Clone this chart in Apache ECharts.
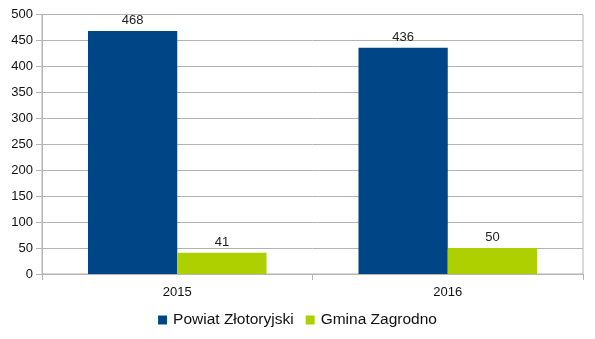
<!DOCTYPE html>
<html>
<head>
<meta charset="utf-8">
<script src="https://cdn.jsdelivr.net/npm/echarts@6/dist/echarts.min.js"></script>
<style>
  html, body { margin: 0; padding: 0; background: #fff; }
  #chart { width: 595px; height: 339px; }
</style>
</head>
<body>
<div id="chart"></div>
<script>
// Years on the category axis
const categories = ['2015', '2016'];
// Series values
const seriesNames = ['Powiat Złotoryjski', 'Gmina Zagrodno'];
const powiatValues = [468, 436];
const gminaValues = [41, 50];
// Value axis ticks
const yTicks = [0, 50, 100, 150, 200, 250, 300, 350, 400, 450, 500];

const FONT = '"Liberation Sans", Arial, sans-serif';
const GRID_COLOR = '#b3b3b3';
const colors = ['#004586', '#aecf00'];

const chart = echarts.init(document.getElementById('chart'), null, { renderer: 'canvas' });

const labelStyle = {
  show: true,
  position: 'top',
  distance: 4,
  color: '#222',
  fontFamily: FONT,
  fontSize: 13
};

chart.setOption({
  animation: false,
  backgroundColor: '#ffffff',
  textStyle: { fontFamily: FONT },
  grid: {
    left: 42, right: 12, top: 14.5, bottom: 65,
    show: true, borderColor: GRID_COLOR, borderWidth: 1,
    containLabel: false
  },
  legend: {
    bottom: 6,
    left: 'center',
    itemWidth: 9,
    itemHeight: 9,
    itemGap: 12,
    icon: 'rect',
    textStyle: { fontFamily: FONT, fontSize: 15.5, color: '#111', padding: [0, 0, 0, 1] },
    data: seriesNames
  },
  xAxis: {
    type: 'category',
    data: categories,
    axisLine: { show: true, lineStyle: { color: GRID_COLOR } },
    axisTick: { show: true, length: 6, alignWithLabel: false, lineStyle: { color: GRID_COLOR } },
    axisLabel: { color: '#111', fontFamily: FONT, fontSize: 13, margin: 12 },
    splitLine: { show: false }
  },
  yAxis: {
    type: 'value',
    min: yTicks[0],
    max: yTicks[yTicks.length - 1],
    interval: yTicks[1] - yTicks[0],
    axisLine: { show: true, lineStyle: { color: GRID_COLOR } },
    axisTick: { show: true, length: 6, lineStyle: { color: GRID_COLOR } },
    axisLabel: { color: '#111', fontFamily: FONT, fontSize: 13, margin: 9 },
    splitLine: { show: true, lineStyle: { color: GRID_COLOR, width: 1 } }
  },
  series: [
    {
      name: seriesNames[0],
      type: 'bar',
      data: powiatValues,
      itemStyle: { color: colors[0] },
      barWidth: '33%',
      barGap: '0%',
      label: labelStyle
    },
    {
      name: seriesNames[1],
      type: 'bar',
      data: gminaValues,
      itemStyle: { color: colors[1] },
      barWidth: '33%',
      barGap: '0%',
      label: labelStyle
    }
  ]
});
</script>
</body>
</html>
